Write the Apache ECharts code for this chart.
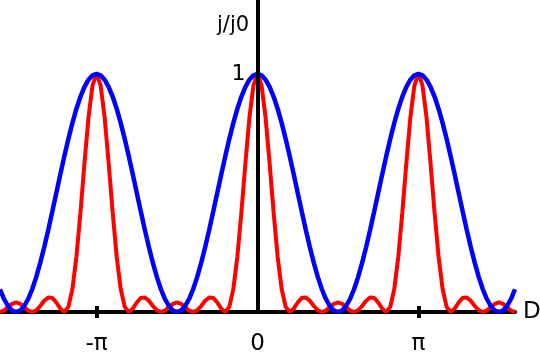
<!DOCTYPE html>
<html>
<head>
<meta charset="utf-8">
<script src="https://cdn.jsdelivr.net/npm/echarts@6/dist/echarts.min.js"></script>
<style>
  html, body { margin: 0; padding: 0; background: #fff; }
  #chart { width: 540px; height: 353px; }
</style>
</head>
<body>
<div id="chart"></div>
<script>
// phase D (rad), sampled every pi/40 from -1.6pi to 1.6pi
var xs = [
  -5.0265,-4.9480,-4.8695,-4.7909,-4.7124,-4.6339,-4.5553,-4.4768,-4.3982,-4.3197,-4.2412,-4.1626,-4.0841,-4.0055,-3.9270,-3.8485,
  -3.7699,-3.6914,-3.6128,-3.5343,-3.4558,-3.3772,-3.2987,-3.2201,-3.1416,-3.0631,-2.9845,-2.9060,-2.8274,-2.7489,-2.6704,-2.5918,
  -2.5133,-2.4347,-2.3562,-2.2777,-2.1991,-2.1206,-2.0420,-1.9635,-1.8850,-1.8064,-1.7279,-1.6493,-1.5708,-1.4923,-1.4137,-1.3352,
  -1.2566,-1.1781,-1.0996,-1.0210,-0.9425,-0.8639,-0.7854,-0.7069,-0.6283,-0.5498,-0.4712,-0.3927,-0.3142,-0.2356,-0.1571,-0.0785,
  0,
  0.0785,0.1571,0.2356,0.3142,0.3927,0.4712,0.5498,0.6283,0.7069,0.7854,0.8639,0.9425,1.0210,1.0996,1.1781,1.2566,
  1.3352,1.4137,1.4923,1.5708,1.6493,1.7279,1.8064,1.8850,1.9635,2.0420,2.1206,2.1991,2.2777,2.3562,2.4347,2.5133,
  2.5918,2.6704,2.7489,2.8274,2.9060,2.9845,3.0631,3.1416,3.2201,3.2987,3.3772,3.4558,3.5343,3.6128,3.6914,3.7699,
  3.8485,3.9270,4.0055,4.0841,4.1626,4.2412,4.3197,4.3982,4.4768,4.5553,4.6339,4.7124,4.7909,4.8695,4.9480,5.0265
];

// j/j0, two slits (blue)
var blue = [
  .0955,.0545,.0245,.0062,0,.0062,.0245,.0545,.0955,.1464,.2061,.2730,.3455,.4218,.5,.5782,.6545,.7270,.7939,.8536,.9045,.9455,.9755,.9938,
  1,.9938,.9755,.9455,.9045,.8536,.7939,.7270,.6545,.5782,.5,.4218,.3455,.2730,.2061,.1464,.0955,.0545,.0245,.0062,
  0,.0062,.0245,.0545,.0955,.1464,.2061,.2730,.3455,.4218,.5,.5782,.6545,.7270,.7939,.8536,.9045,.9455,.9755,.9938,
  1,.9938,.9755,.9455,.9045,.8536,.7939,.7270,.6545,.5782,.5,.4218,.3455,.2730,.2061,.1464,.0955,.0545,.0245,.0062,
  0,.0062,.0245,.0545,.0955,.1464,.2061,.2730,.3455,.4218,.5,.5782,.6545,.7270,.7939,.8536,.9045,.9455,.9755,.9938,
  1,.9938,.9755,.9455,.9045,.8536,.7939,.7270,.6545,.5782,.5,.4218,.3455,.2730,.2061,.1464,.0955,.0545,.0245,.0062,
  0,.0062,.0245,.0545,.0955
];

// j/j0, five slits (red)
var red = [
  0,.0062,.0205,.0344,.04,.0344,.0205,.0062,0,.0069,.0252,.0470,.0611,.0591,.04,.0139,0,.0215,.0970,.2331,.4189,.6265,.8173,.9516,
  1,.9516,.8173,.6265,.4189,.2331,.0970,.0215,0,.0139,.04,.0591,.0611,.0470,.0252,.0069,
  0,.0062,.0205,.0344,.04,.0344,.0205,.0062,0,.0069,.0252,.0470,.0611,.0591,.04,.0139,0,.0215,.0970,.2331,.4189,.6265,.8173,.9516,
  1,.9516,.8173,.6265,.4189,.2331,.0970,.0215,0,.0139,.04,.0591,.0611,.0470,.0252,.0069,
  0,.0062,.0205,.0344,.04,.0344,.0205,.0062,0,.0069,.0252,.0470,.0611,.0591,.04,.0139,0,.0215,.0970,.2331,.4189,.6265,.8173,.9516,
  1,.9516,.8173,.6265,.4189,.2331,.0970,.0215,0,.0139,.04,.0591,.0611,.0470,.0252,.0069,
  0,.0062,.0205,.0344,.04,.0344,.0205,.0062,0
];

var xTickValues = [-Math.PI, 0, Math.PI];
var xTickLabels = ['-π', '0', 'π'];
var yLabelValues = [1];

var font = 'DejaVu Sans';

var chart = echarts.init(document.getElementById('chart'));

function pairs(ys) {
  return xs.map(function (x, i) { return [x, ys[i]]; });
}

var option = {
  animation: false,
  grid: { left: 0, right: 25, top: 0, bottom: 41, containLabel: false, outerBoundsMode: 'none' },
  xAxis: [
    {
      type: 'value',
      min: -5.0265,
      max: 5.0265,
      name: 'D',
      nameLocation: 'end',
      nameGap: 8,
      nameTextStyle: { fontFamily: font, fontSize: 23, color: '#000', verticalAlign: 'middle', padding: [4, 0, 0, 0] },
      axisLine: { onZero: true, lineStyle: { color: '#000', width: 4 } },
      axisTick: { show: true, inside: false, length: 6, lineStyle: { color: '#000', width: 4 }, customValues: [-Math.PI, Math.PI] },
      axisLabel: {
        show: true,
        customValues: xTickValues,
        margin: 21,
        fontFamily: font,
        fontSize: 23,
        color: '#000',
        formatter: function (v) {
          for (var i = 0; i < xTickValues.length; i++) {
            if (Math.abs(v - xTickValues[i]) < 1e-6) return xTickLabels[i];
          }
          return '';
        }
      },
      splitLine: { show: false }
    },
    {
      // second copy so the ticks cross the axis line
      type: 'value',
      position: 'bottom',
      min: -5.0265,
      max: 5.0265,
      axisLine: { show: false, onZero: false },
      axisTick: { show: true, inside: true, length: 6, lineStyle: { color: '#000', width: 4 }, customValues: [-Math.PI, Math.PI] },
      axisLabel: { show: false },
      splitLine: { show: false }
    }
  ],
  yAxis: {
    type: 'value',
    min: 0,
    max: 1.31,
    z: 5,
    position: 'left',
    offset: -257.5,
    axisLine: { show: true, onZero: false, lineStyle: { color: '#000', width: 4 } },
    axisTick: { show: false },
    axisLabel: {
      customValues: yLabelValues,
      margin: 12,
      fontFamily: font,
      fontSize: 22,
      color: '#000',
      formatter: function (v) { return String(v); }
    },
    splitLine: { show: false }
  },
  graphic: [
    {
      type: 'text',
      left: 217,
      top: 15,
      style: { text: 'j/j0', font: '21px "DejaVu Sans"', fill: '#000' }
    }
  ],
  series: [
    {
      name: 'N=5',
      type: 'line',
      data: pairs(red),
      showSymbol: false,
      symbol: 'none',
      lineStyle: { color: '#ff0000', width: 4 },
      z: 2
    },
    {
      name: 'N=2',
      type: 'line',
      data: pairs(blue),
      showSymbol: false,
      symbol: 'none',
      lineStyle: { color: '#0000ff', width: 4.5 },
      z: 3
    }
  ]
};

chart.setOption(option);
window.onresize = function () { chart.resize(); };
</script>
</body>
</html>
